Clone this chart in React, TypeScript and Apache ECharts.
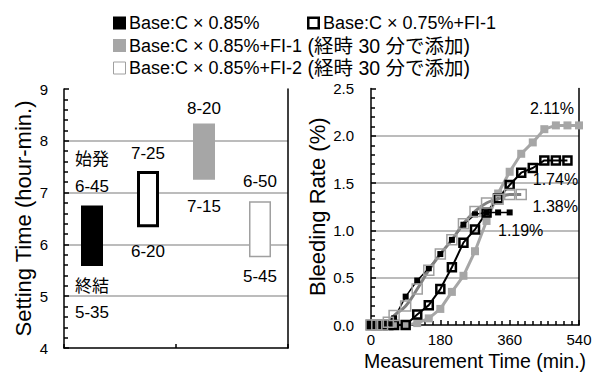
import React, { useEffect, useRef } from "react";
import * as echarts from "echarts";

const FONT = "'Liberation Sans', Arial, 'Noto Sans CJK JP', sans-serif";

// Legend / series names
const seriesNames = [
  "Base:C × 0.85%",
  "Base:C × 0.75%+FI-1",
  "Base:C × 0.85%+FI-1 (経時 30 分で添加)",
  "Base:C × 0.85%+FI-2 (経時 30 分で添加)",
];

// Left chart: setting time ranges (hours, decimal)
const setCategories = ["C0.85", "C0.75+FI-1", "C0.85+FI-1", "C0.85+FI-2"];
const setTop = [6.75, 7.417, 8.333, 6.833];
const setBottom = [5.583, 6.333, 7.25, 5.75];
const setTopLabels = ["始発\n6-45", "7-25", "8-20", "6-50"];
const setBottomLabels = ["終結\n5-35", "6-20", "7-15", "5-45"];

// Right chart: bleeding rate (%) vs time (min)
const timeA = [0, 15, 30, 45, 60, 90, 120, 150, 180, 210, 240, 270, 300, 330, 360];
const bleedA = [0, 0, 0, 0.02, 0.07, 0.3, 0.47, 0.6, 0.75, 0.9, 1.06, 1.17, 1.19, 1.19, 1.19];
const timeB = [0, 15, 30, 45, 60, 90, 120, 150, 180, 210, 240, 270, 300, 330, 360, 390, 420, 450, 480, 510];
const bleedB = [0, 0, 0, 0, 0, 0, 0.11, 0.21, 0.38, 0.61, 0.87, 1.01, 1.19, 1.34, 1.48, 1.61, 1.66, 1.74, 1.74, 1.74];
const timeC = [0, 15, 30, 45, 60, 90, 120, 150, 180, 210, 240, 270, 300, 330, 360, 390, 420, 450, 480, 510, 540];
const bleedC = [0, 0, 0, 0, 0, 0, 0.02, 0.07, 0.17, 0.35, 0.52, 0.78, 1.1, 1.39, 1.62, 1.81, 1.93, 2.07, 2.11, 2.11, 2.11];
const timeD = [0, 15, 30, 45, 60, 90, 120, 150, 180, 210, 240, 270, 300, 330, 360, 390];
const bleedD = [0, 0, 0, 0.03, 0.1, 0.2, 0.38, 0.58, 0.75, 0.9, 1.07, 1.2, 1.29, 1.33, 1.38, 1.38];
const endLabels = ["1.19%", "1.74%", "2.11%", "1.38%"];

const yTicksLeft = [4, 9, 1];
const yTicksRight = [0, 2.5, 0.5];
const xTicksRight = [0, 540, 180];

const pairs = (t: number[], v: number[]) => t.map((x, i) => [x, v[i]]);

export default function App() {
  const ref = useRef<HTMLDivElement>(null);
  useEffect(() => {
    if (!ref.current) return;
    const chart = echarts.init(ref.current, undefined, { renderer: "svg" });

    const barStyles = [
      { color: "#000" },
      { color: "#fff", borderColor: "#000", borderWidth: 3 },
      { color: "#a6a6a6" },
      { color: "#fff", borderColor: "#a0a0a0", borderWidth: 1.5 },
    ];
    const topDist = [6, 4, 2, 6];
    const botDist = [7, 11, 14, 6];

    const axisText = { color: "#000", fontSize: 15, fontFamily: FONT };
    const nameText = { color: "#000", fontSize: 22, fontFamily: FONT };
    const gridLine = { show: true, showMaxLine: false, showMinLine: false, lineStyle: { color: "#a6a6a6", width: 1.5 } };
    const blackLine = { show: true, lineStyle: { color: "#000", width: 1.5 } };

    const endMark = (t: number, v: number, text: string, off: number[]) => ({
      symbol: "rect",
      symbolSize: 1,
      itemStyle: { color: "rgba(0,0,0,0)" },
      data: [
        {
          coord: [t, v],
          label: {
            show: true,
            formatter: text,
            position: "inside",
            offset: off,
            color: "#000",
            fontSize: 16,
            fontFamily: FONT,
          },
        },
      ],
    });

    const legendRows = [
      { x: 113, y: 23, text: seriesNames[0], fill: "#000", stroke: null, lw: 0 },
      { x: 307, y: 23, text: seriesNames[1], fill: "#fff", stroke: "#000", lw: 2.5 },
      { x: 113, y: 45.5, text: seriesNames[2], fill: "#a6a6a6", stroke: null, lw: 0 },
      { x: 113, y: 68, text: seriesNames[3], fill: "#fff", stroke: "#a0a0a0", lw: 1 },
    ];
    const graphic: any[] = [];
    legendRows.forEach((r) => {
      graphic.push({
        type: "rect",
        shape: { x: r.x + (r.lw ? r.lw / 2 : 0), y: r.y - 6.5 + (r.lw ? r.lw / 2 : 0), width: 13 - r.lw, height: 13 - r.lw },
        style: { fill: r.fill, stroke: r.stroke || undefined, lineWidth: r.lw },
      });
      const k = r.text.indexOf(" (");
      const txt = k >= 0 ? `{a|${r.text.slice(0, k)}}{j|${r.text.slice(k)}}` : `{a|${r.text}}`;
      graphic.push({
        type: "text",
        x: r.x + 16,
        y: r.y,
        style: {
          text: txt,
          fill: "#000",
          fontFamily: FONT,
          fontSize: 18,
          verticalAlign: "middle",
          align: "left",
          rich: {
            a: { fontSize: 18, fontFamily: FONT, fill: "#000", color: "#000" },
            j: { fontSize: 19.5, fontFamily: FONT, fill: "#000", color: "#000" },
          },
        },
      });
    });

    chart.setOption({
      animation: false,
      backgroundColor: "#fff",
      textStyle: { fontFamily: FONT },
      graphic,
      grid: [
        { left: 64, right: 312, top: 89, bottom: 26, outerBoundsMode: "none", containLabel: false },
        { left: 371, right: 21, top: 88.5, bottom: 49, outerBoundsMode: "none", containLabel: false },
      ],
      xAxis: [
        {
          gridIndex: 0,
          type: "category",
          data: setCategories,
          axisLine: blackLine,
          axisTick: { show: true, inside: true, length: 4, lineStyle: { color: "#000", width: 1.5 } },
          axisLabel: { show: false },
          splitLine: { show: false },
        },
        {
          gridIndex: 1,
          type: "value",
          min: xTicksRight[0],
          max: xTicksRight[1],
          interval: xTicksRight[2],
          axisLine: blackLine,
          axisTick: { show: true, inside: true, length: 5, lineStyle: { color: "#000", width: 1.5 } },
          minorTick: { show: true, splitNumber: 9, length: 4, lineStyle: { color: "#000", width: 1.5 } },
          axisLabel: { ...axisText, margin: 6, lineHeight: 16 },
          splitLine: { show: false },
          name: "Measurement Time (min.)",
          nameLocation: "middle",
          nameMoveOverlap: false,
          nameGap: 26,
          nameTextStyle: { ...nameText, fontSize: 19.5, lineHeight: 20 },
        },
      ],
      yAxis: [
        {
          gridIndex: 0,
          type: "value",
          min: yTicksLeft[0],
          max: yTicksLeft[1],
          interval: yTicksLeft[2],
          axisLine: blackLine,
          axisTick: { show: true, inside: true, length: 5, lineStyle: { color: "#000", width: 1.5 } },
          minorTick: { show: true, splitNumber: 5, length: 4, lineStyle: { color: "#000", width: 1.5 } },
          axisLabel: { ...axisText, margin: 16 },
          splitLine: gridLine,
          name: "Setting Time (hour-min.)",
          nameLocation: "middle",
          nameMoveOverlap: false,
          nameGap: 30,
          nameTextStyle: nameText,
        },
        {
          gridIndex: 0,
          type: "value",
          position: "right",
          min: yTicksLeft[0],
          max: yTicksLeft[1],
          interval: yTicksLeft[2],
          axisLine: blackLine,
          axisTick: { show: false },
          axisLabel: { show: false },
          splitLine: { show: false },
        },
        {
          gridIndex: 1,
          type: "value",
          min: yTicksRight[0],
          max: yTicksRight[1],
          interval: yTicksRight[2],
          axisLine: blackLine,
          axisTick: { show: true, inside: true, length: 5, lineStyle: { color: "#000", width: 1.5 } },
          minorTick: { show: true, splitNumber: 5, length: 4, lineStyle: { color: "#000", width: 1.5 } },
          axisLabel: { ...axisText, margin: 17, formatter: (v: number) => v.toFixed(1) },
          splitLine: gridLine,
          name: "Bleeding Rate (%)",
          nameLocation: "middle",
          nameMoveOverlap: false,
          nameGap: 43,
          nameTextStyle: nameText,
        },
        {
          gridIndex: 1,
          type: "value",
          position: "right",
          min: yTicksRight[0],
          max: yTicksRight[1],
          interval: yTicksRight[2],
          axisLine: blackLine,
          axisTick: { show: false },
          axisLabel: { show: false },
          splitLine: { show: false },
        },
      ],
      series: [
        {
          type: "bar",
          xAxisIndex: 0,
          yAxisIndex: 0,
          stack: "set",
          barWidth: 22,
          itemStyle: { color: "rgba(0,0,0,0)" },
          data: setBottom.map((v, i) => ({
            value: v,
            label: {
              show: true,
              position: "insideTop",
              distance: botDist[i],
              formatter: setBottomLabels[i],
              color: "#000",
              fontSize: 17,
              lineHeight: 26,
              fontFamily: FONT,
            },
          })),
        },
        {
          type: "bar",
          xAxisIndex: 0,
          yAxisIndex: 0,
          stack: "set",
          barWidth: 22,
          data: setTop.map((v, i) => ({
            value: +(v - setBottom[i]).toFixed(3),
            itemStyle: barStyles[i],
            label: {
              show: true,
              position: "top",
              distance: topDist[i],
              formatter: setTopLabels[i],
              color: "#000",
              fontSize: 17,
              lineHeight: 27,
              fontFamily: FONT,
            },
          })),
        },
        {
          name: seriesNames[2],
          type: "line",
          xAxisIndex: 1,
          yAxisIndex: 2,
          data: pairs(timeC, bleedC),
          symbol: "rect",
          symbolSize: 8,
          lineStyle: { color: "#a6a6a6", width: 3 },
          itemStyle: { color: "#a6a6a6" },
          markPoint: endMark(timeC[timeC.length - 1], bleedC[bleedC.length - 1], endLabels[2], [-27, -17]),
        },
        {
          name: seriesNames[0],
          type: "line",
          xAxisIndex: 1,
          yAxisIndex: 2,
          data: pairs(timeA, bleedA),
          symbol: "rect",
          symbolSize: 6,
          lineStyle: { color: "#000", width: 1.5 },
          itemStyle: { color: "#000" },
          markPoint: endMark(timeA[timeA.length - 1], bleedA[bleedA.length - 1], endLabels[0], [11, 18]),
        },
        {
          name: seriesNames[1],
          type: "line",
          xAxisIndex: 1,
          yAxisIndex: 2,
          data: pairs(timeB, bleedB),
          symbol: "rect",
          symbolSize: 8,
          lineStyle: { color: "#000", width: 2 },
          itemStyle: { color: "rgba(255,255,255,0)", borderColor: "#000", borderWidth: 2.5 },
          markPoint: endMark(timeB[timeB.length - 1], bleedB[bleedB.length - 1], endLabels[1], [-12, 19]),
        },
        {
          name: seriesNames[3],
          type: "line",
          xAxisIndex: 1,
          yAxisIndex: 2,
          data: pairs(timeD, bleedD),
          symbol: "rect",
          symbolSize: 10,
          smooth: true,
          lineStyle: { color: "#808080", width: 3 },
          itemStyle: { color: "rgba(255,255,255,0)", borderColor: "#a0a0a0", borderWidth: 1.5 },
          markPoint: endMark(timeD[timeD.length - 1], bleedD[bleedD.length - 1], endLabels[3], [34, 12]),
        },
      ],
    });
    return () => chart.dispose();
  }, []);
  return (
    <div
      ref={ref}
      style={{ position: "fixed", left: 0, top: 0, width: 600, height: 374, background: "#fff" }}
    />
  );
}
